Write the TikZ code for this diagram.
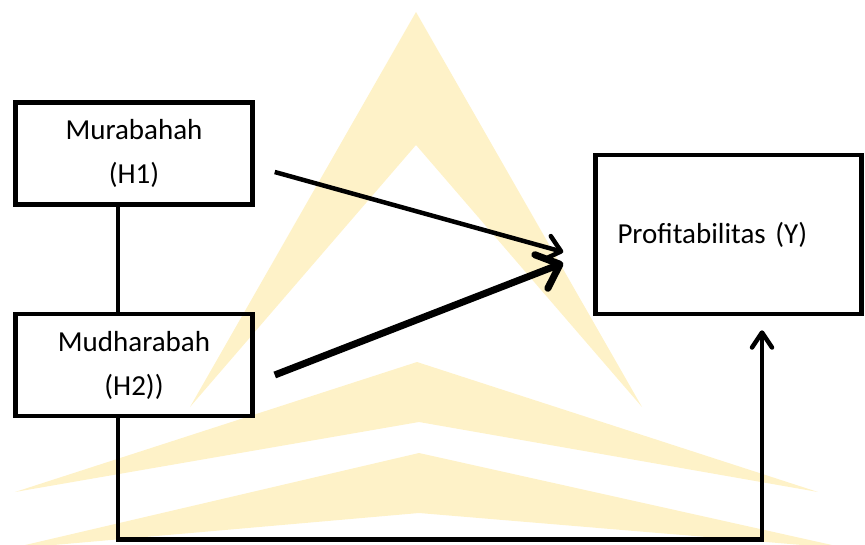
\documentclass[tikz,border=0pt]{standalone}
\usepackage{fontspec}
\setmainfont{Carlito}
\usetikzlibrary{arrows.meta}
\definecolor{watermark}{RGB}{254,242,200}

\begin{document}
\begin{tikzpicture}[x=1pt,y=-1pt,
	varbox/.style={draw,line width=4.5pt,minimum width=237pt,minimum height=102pt,inner sep=0pt,align=center,font=\fontsize{29}{44}\selectfont},
	link/.style={line width=4.5pt},
	barb/.style 2 args={-{Straight Barb[round,length=#1,width=#2]}}]
	\useasboundingbox (0,0) rectangle (865,544);
	% watermark behind the diagram
	\begin{scope}
		\clip (0,0) rectangle (865,544);
		\fill[watermark] (416,12) -- (642,407) -- (416,145) -- (190,407) -- cycle;
		\fill[watermark] (417,362) -- (818,492) -- (419,422) -- (15,492) -- cycle;
		\fill[watermark] (419,453) -- (850,549) -- (419,513) -- (8,549) -- cycle;
	\end{scope}
	\node[varbox] (murabahah) at (134,153.5) {Murabahah\\(H1)};
	\node[varbox] (mudharabah) at (134,365) {Mudharabah\\(H2))};
	\node[draw,line width=4.5pt,minimum height=159pt,text width=222pt,inner xsep=22pt,align=left,font=\fontsize{29}{44}\selectfont] (profit) at (728.5,234.5) {Profitabilitas (Y)};
	\draw[link] ([xshift=-16pt]murabahah.south) -- ([xshift=-16pt]mudharabah.north);
	\draw[link,barb={14pt}{24pt}] ([xshift=20pt,yshift=-18.5pt]murabahah.east) -- ([xshift=-30pt,yshift=-17.5pt]profit.west);
	\draw[line width=7pt,barb={20pt}{36pt}] ([xshift=20pt,yshift=-10pt]mudharabah.east) -- ([xshift=-30pt,yshift=-28.5pt]profit.west);
	\draw[link,barb={15pt}{20pt}] ([xshift=-16pt]mudharabah.south) -- ++(0,121) -| ([xshift=33.5pt,yshift=-14pt]profit.south);
\end{tikzpicture}
\end{document}
